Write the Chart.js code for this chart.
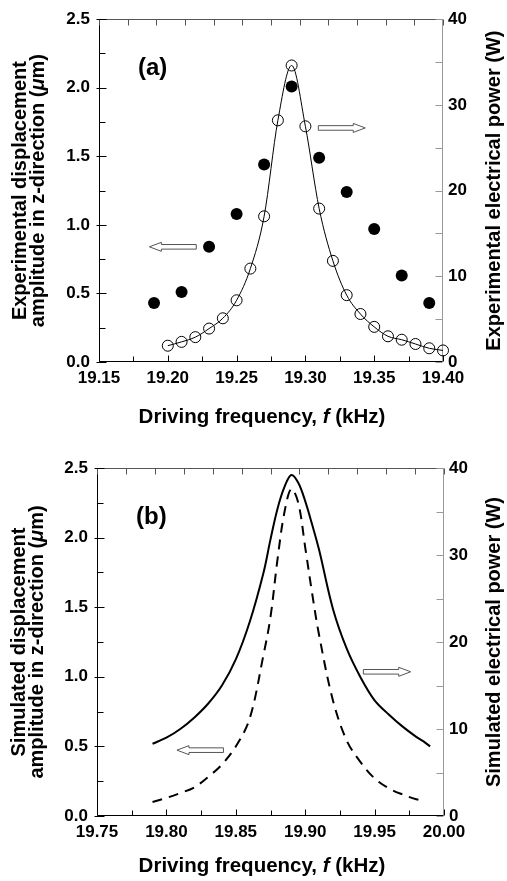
<!DOCTYPE html>
<html>
<head>
<meta charset="utf-8">
<script src="https://cdn.jsdelivr.net/npm/chart.js@4.4.0/dist/chart.umd.min.js"></script>
<style>
  body { margin: 0; background: #fff; }
  canvas { display: block; }
</style>
</head>
<body>
<canvas id="chartA" width="507" height="440"></canvas>
<canvas id="chartB" width="507" height="441"></canvas>
<script>
// (a) experimental data
const expAmpFreq = [19.19, 19.21, 19.23, 19.25, 19.27, 19.29, 19.31, 19.33, 19.35, 19.37, 19.39];
const expAmp = [0.43, 0.51, 0.84, 1.08, 1.44, 2.01, 1.49, 1.24, 0.97, 0.63, 0.43];
const expPowFreq = [19.20, 19.21, 19.22, 19.23, 19.24, 19.25, 19.26, 19.27, 19.28, 19.29, 19.30,
    19.31, 19.32, 19.33, 19.34, 19.35, 19.36, 19.37, 19.38, 19.39, 19.40];
const expPow = [1.9, 2.35, 2.9, 3.9, 5.1, 7.2, 10.9, 17.0, 28.2, 34.6, 27.5,
    17.9, 11.8, 7.8, 5.6, 4.1, 3.0, 2.6, 2.1, 1.6, 1.35];

// (b) simulated data
const simFreq = [19.79, 19.80, 19.81, 19.82, 19.83, 19.84, 19.85, 19.86, 19.87, 19.875, 19.88, 19.885, 19.89,
    19.895, 19.90, 19.905, 19.91, 19.92, 19.93, 19.94, 19.95, 19.96, 19.97, 19.98, 19.985, 19.99];
const simPow = [8.3, 9.0, 10.0, 11.3, 12.9, 15.0, 18.0, 22.3, 28.0, 31.8, 35.3, 37.8, 39.2,
    38.3, 36.2, 33.5, 30.6, 23.8, 19.2, 15.9, 13.3, 11.7, 10.3, 9.1, 8.6, 8.0];
const simAmp = [0.10, 0.13, 0.165, 0.205, 0.28, 0.37, 0.50, 0.70, 1.16, 1.43, 1.84, 2.18, 2.35,
    2.25, 1.93, 1.60, 1.30, 0.83, 0.54, 0.385, 0.27, 0.20, 0.155, 0.12, 0.11, null];

// tick labels
const freqLabelsA = ["19.15", "19.20", "19.25", "19.30", "19.35", "19.40"];
const freqLabelsB = ["19.75", "19.80", "19.85", "19.90", "19.95", "20.00"];
const ampLabels = ["0.0", "0.5", "1.0", "1.5", "2.0", "2.5"];
const powLabels = ["0", "10", "20", "30", "40"];

const FONT = "'Liberation Sans', Arial, Helvetica, sans-serif";

function toPoints(xs, ys) {
    return xs.map((x, i) => ({ x: x, y: ys[i] })).filter(p => p.y !== null);
}

function isMajor(v, step) {
    const r = v / step;
    return Math.abs(r - Math.round(r)) < 1e-6;
}

function seg(ctx, x1, y1, x2, y2, color) {
    ctx.strokeStyle = color;
    ctx.beginPath();
    ctx.moveTo(x1, y1);
    ctx.lineTo(x2, y2);
    ctx.stroke();
}

// 混合字体文本（斜体 f、μ）
function richText(ctx, parts, x, y, size, rot) {
    ctx.save();
    ctx.translate(x, y);
    ctx.rotate(rot);
    ctx.textBaseline = "middle";
    ctx.textAlign = "left";
    ctx.fillStyle = "#000";
    let total = 0;
    parts.forEach(p => {
        ctx.font = (p.it ? "italic " : "") + "bold " + size + "px " + FONT;
        p.w = ctx.measureText(p.t).width;
        total += p.w;
    });
    let cx = -total / 2;
    parts.forEach(p => {
        ctx.font = (p.it ? "italic " : "") + "bold " + size + "px " + FONT;
        ctx.fillText(p.t, cx, 0);
        cx += p.w;
    });
    ctx.restore();
}

function openArrow(ctx, xTip, xTail, y) {
    const dir = Math.sign(xTail - xTip);
    const hl = 12, hh = 4.5, sh = 2.3;
    ctx.beginPath();
    ctx.moveTo(xTip, y);
    ctx.lineTo(xTip + dir * hl, y - hh);
    ctx.lineTo(xTip + dir * hl, y - sh);
    ctx.lineTo(xTail, y - sh);
    ctx.lineTo(xTail, y + sh);
    ctx.lineTo(xTip + dir * hl, y + sh);
    ctx.lineTo(xTip + dir * hl, y + hh);
    ctx.closePath();
    ctx.fillStyle = "#fff";
    ctx.fill();
    ctx.lineWidth = 1;
    ctx.strokeStyle = "#555";
    ctx.stroke();
}

// 坐标框与内向刻度
const framePlugin = {
    id: "frame",
    beforeDatasetsDraw(chart) {
        const { ctx, chartArea: a, scales } = chart;
        const L = Math.round(a.left) + 0.5, R = Math.round(a.right) - 0.5;
        const T = Math.round(a.top) + 0.5, B = Math.round(a.bottom) - 0.5;
        ctx.save();
        ctx.lineWidth = 1;
        seg(ctx, L, T, R, T, "#555");
        seg(ctx, R, T, R, B, "#999");
        seg(ctx, L, T, L, B, "#000");
        seg(ctx, L, B, R, B, "#000");

        scales.x.ticks.forEach(t => {
            const p = Math.round(scales.x.getPixelForValue(t.value)) + 0.5;
            const len = isMajor(t.value, 0.05) ? 6 : 5;
            seg(ctx, p, B, p, B - len, "#000");
        });
        scales.xTop.ticks.forEach(t => {
            const p = Math.round(scales.xTop.getPixelForValue(t.value)) + 0.5;
            seg(ctx, p, T, p, T + 6, "#555");
        });
        scales.y.ticks.forEach(t => {
            const p = Math.round(scales.y.getPixelForValue(t.value)) + 0.5;
            if (isMajor(t.value, 0.5)) seg(ctx, L - 3, p, L + 7, p, "#000");
            else seg(ctx, L, p, L + 6, p, "#000");
        });
        scales.y2.ticks.forEach(t => {
            const p = Math.round(scales.y2.getPixelForValue(t.value)) + 0.5;
            seg(ctx, R, p, R - 7, p, "#999");
        });
        ctx.restore();
    },
    afterDraw(chart, args, o) {
        const { ctx, chartArea: a, scales } = chart;
        const midY = (a.top + a.bottom) / 2;
        ctx.save();
        // 箭头
        o.arrows.forEach(ar => {
            const y = scales.y.getPixelForValue(ar.y);
            openArrow(ctx, scales.x.getPixelForValue(ar.tip), scales.x.getPixelForValue(ar.tail), y);
        });
        // 标题
        o.leftTitle.forEach((line, i) => {
            richText(ctx, line, o.leftTitleX[i], midY, 20, -Math.PI / 2);
        });
        richText(ctx, [{ t: o.rightTitle }], o.rightTitleX, midY, 20, -Math.PI / 2);
        richText(ctx, [{ t: "Driving frequency, " }, { t: "f", it: true }, { t: " (kHz)" }],
            o.xTitleX, o.xTitleY, 20.5, 0);
        // 面板标记
        ctx.font = "bold 24px " + FONT;
        ctx.fillStyle = "#000";
        ctx.textBaseline = "middle";
        ctx.textAlign = "left";
        ctx.fillText(o.panel, a.left + 39, a.top + 49);
        ctx.restore();
    }
};

function tickFont() {
    return { family: FONT, size: 17, weight: "bold" };
}

function makeChart(id, cfg) {
    const ctx = document.getElementById(id).getContext("2d");
    return new Chart(ctx, {
        type: "scatter",
        data: { datasets: cfg.datasets },
        options: {
            responsive: false,
            animation: false,
            events: [],
            layout: { padding: { top: cfg.top, left: 0, right: 0, bottom: 0 } },
            plugins: {
                legend: { display: false },
                tooltip: { enabled: false },
                frame: cfg.frame,
            },
            scales: {
                x: {
                    type: "linear",
                    position: "bottom",
                    min: cfg.xMin,
                    max: cfg.xMax,
                    grid: { display: false, drawTicks: false },
                    border: { display: false },
                    ticks: {
                        stepSize: 0.025,
                        autoSkip: false,
                        maxRotation: 0,
                        padding: 6,
                        color: "#000",
                        font: tickFont(),
                        callback: (v) => cfg.xLabels.includes(v.toFixed(2)) ? v.toFixed(2) : "",
                    },
                    afterFit(s) { s.height = cfg.xHeight; },
                },
                xTop: {
                    type: "linear",
                    position: "top",
                    min: 0,
                    max: 12,
                    grid: { display: false, drawTicks: false },
                    border: { display: false },
                    ticks: { stepSize: 1, display: false },
                    afterFit(s) { s.height = 0; },
                },
                y: {
                    position: "left",
                    min: 0,
                    max: 2.5,
                    grid: { display: false, drawTicks: false },
                    border: { display: false },
                    ticks: {
                        stepSize: 0.25,
                        autoSkip: false,
                        padding: 9,
                        color: "#000",
                        font: tickFont(),
                        callback: (v) => ampLabels.includes(v.toFixed(1)) && isMajor(v, 0.5) ? v.toFixed(1) : "",
                    },
                    afterFit(s) { s.width = cfg.leftWidth; },
                },
                y2: {
                    position: "right",
                    min: 0,
                    max: 40,
                    grid: { display: false, drawTicks: false },
                    border: { display: false },
                    ticks: {
                        stepSize: 5,
                        autoSkip: false,
                        padding: 5,
                        color: "#000",
                        font: tickFont(),
                        callback: (v) => powLabels.includes(String(v)) ? String(v) : "",
                    },
                    afterFit(s) { s.width = cfg.rightWidth; },
                },
            },
        },
        plugins: [framePlugin],
    });
}

window.addEventListener("DOMContentLoaded", () => {
    // 实验结果 (a)
    makeChart("chartA", {
        top: 16,
        xMin: 19.15,
        xMax: 19.40,
        xLabels: freqLabelsA,
        xHeight: 78,
        leftWidth: 99,
        rightWidth: 64,
        datasets: [{
            label: "Experimental displacement amplitude",
            data: toPoints(expAmpFreq, expAmp),
            yAxisID: "y",
            showLine: false,
            pointRadius: 6,
            pointBackgroundColor: "#000",
            pointBorderColor: "#000",
            pointBorderWidth: 0,
            clip: false,
        }, {
            label: "Experimental electrical power",
            data: toPoints(expPowFreq, expPow),
            yAxisID: "y2",
            showLine: true,
            borderColor: "#000",
            borderWidth: 1,
            cubicInterpolationMode: "monotone",
            pointRadius: 5.5,
            pointBackgroundColor: "rgba(0,0,0,0)",
            pointBorderColor: "#000",
            pointBorderWidth: 1,
            clip: false,
        }],
        frame: {
            panel: "(a)",
            leftTitle: [
                [{ t: "Experimental displacement" }],
                [{ t: "amplitude in z-direction (" }, { t: "μ", it: true }, { t: "m)" }],
            ],
            leftTitleX: [20, 38],
            rightTitle: "Experimental electrical power (W)",
            rightTitleX: 494,
            xTitleX: 262,
            xTitleY: 417,
            arrows: [
                { tip: 19.1866, tail: 19.2207, y: 0.84 },
                { tip: 19.3435, tail: 19.3094, y: 1.707 },
            ],
        },
    });

    // 模拟结果 (b)
    makeChart("chartB", {
        top: 28,
        xMin: 19.75,
        xMax: 20.00,
        xLabels: freqLabelsB,
        xHeight: 65,
        leftWidth: 97,
        rightWidth: 63,
        datasets: [{
            label: "Simulated electrical power",
            data: toPoints(simFreq, simPow),
            yAxisID: "y2",
            showLine: true,
            borderColor: "#000",
            borderWidth: 2,
            tension: 0.35,
            pointRadius: 0,
            clip: false,
        }, {
            label: "Simulated displacement amplitude",
            data: toPoints(simFreq, simAmp),
            yAxisID: "y",
            showLine: true,
            borderColor: "#000",
            borderWidth: 2,
            borderDash: [10, 7],
            tension: 0.35,
            pointRadius: 0,
            clip: false,
        }],
        frame: {
            panel: "(b)",
            leftTitle: [
                [{ t: "Simulated displacement" }],
                [{ t: "amplitude in z-direction (" }, { t: "μ", it: true }, { t: "m)" }],
            ],
            leftTitleX: [19, 37],
            rightTitle: "Simulated electrical power (W)",
            rightTitleX: 494,
            xTitleX: 262,
            xTitleY: 426,
            arrows: [
                { tip: 19.8076, tail: 19.8411, y: 0.473 },
                { tip: 19.976, tail: 19.9419, y: 1.036 },
            ],
        },
    });
});
</script>
</body>
</html>
